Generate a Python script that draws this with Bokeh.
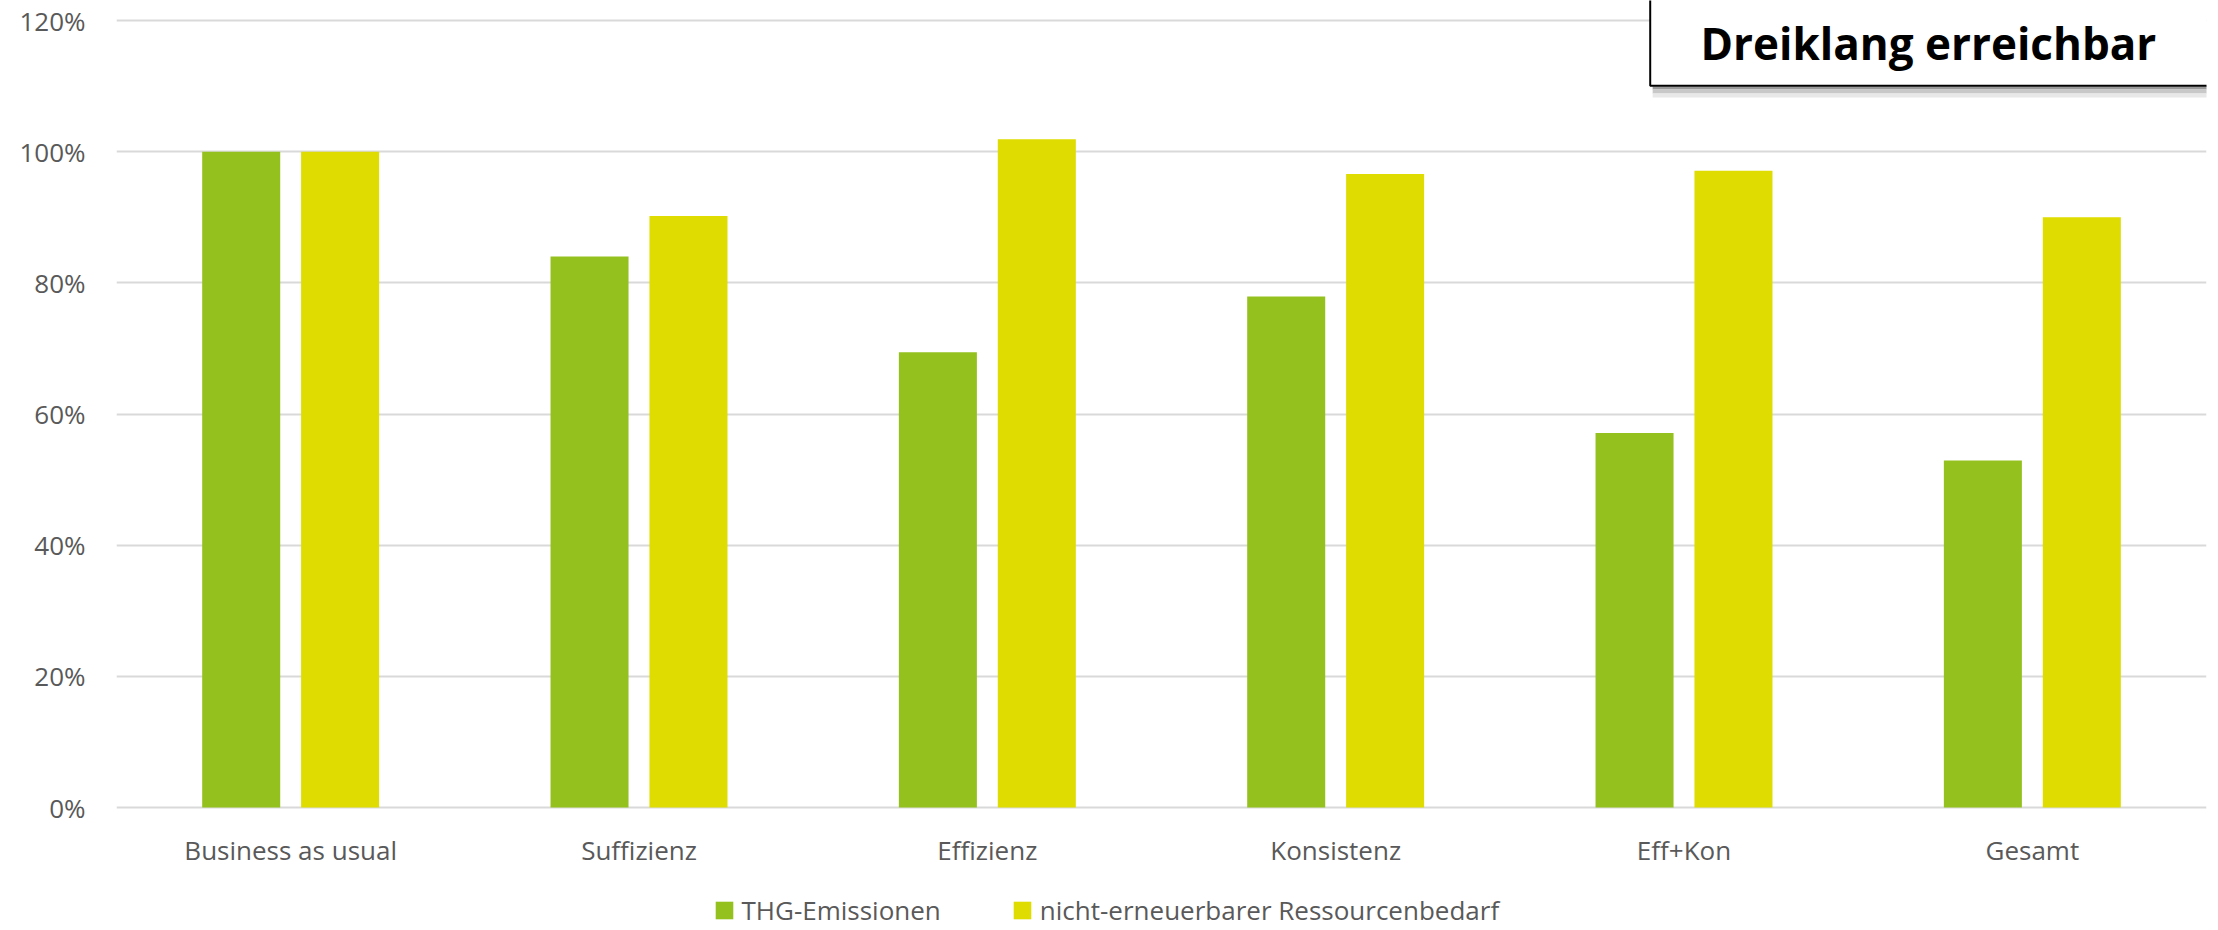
from bokeh.plotting import figure
from bokeh.models import (FactorRange, Range1d, FixedTicker, Legend, LegendItem,
                          Label, BoxAnnotation, ColumnDataSource)
from bokeh.transform import dodge
from bokeh.core.properties import value
from bokeh.embed import file_html
from bokeh.resources import INLINE

# ---- data ----
categories = ["Business as usual", "Suffizienz", "Effizienz", "Konsistenz", "Eff+Kon", "Gesamt"]
thg_emissionen = [100.0, 84.0, 69.4, 77.9, 57.1, 52.9]
ressourcenbedarf = [100.0, 90.2, 101.9, 96.6, 97.1, 90.0]
series_names = ["THG-Emissionen", "nicht-erneuerbarer Ressourcenbedarf"]
y_ticks = [0, 20, 40, 60, 80, 100, 120]
y_tick_labels = ["0%", "20%", "40%", "60%", "80%", "100%", "120%"]
title_text = "Dreiklang erreichbar"

# ---- style ----
GREEN = "#95C11F"
YELLOW = "#DEDC00"
GRID = "#D9D9D9"
TEXT = "#595959"
FONT = "Open Sans"
PX_PER_UNIT = 787 / 120.0           # vertical scale (px per percent)
Y_START = -(928 - 807) / PX_PER_UNIT
Y_END = 807 / PX_PER_UNIT
LABEL_Y = -(849 - 807) / PX_PER_UNIT  # vertical position of category labels

source = ColumnDataSource(dict(cat=categories, thg=thg_emissionen, res=ressourcenbedarf))

p = figure(width=2216, height=928,
           x_range=FactorRange(*categories, range_padding=0),
           y_range=Range1d(Y_START, Y_END),
           x_axis_location=None,
           output_backend="svg", toolbar_location=None,
           min_border_left=116, min_border_right=10,
           min_border_top=0, min_border_bottom=0)
p.outline_line_color = None
p.background_fill_color = "white"
p.border_fill_color = "white"

r1 = p.vbar(x=dodge("cat", -0.142, range=p.x_range), top="thg", width=0.224,
            source=source, fill_color=GREEN, line_color=None)
r2 = p.vbar(x=dodge("cat", 0.142, range=p.x_range), top="res", width=0.224,
            source=source, fill_color=YELLOW, line_color=None)

# category labels (x axis)
lab_src = ColumnDataSource(dict(cat=categories, y=[LABEL_Y] * len(categories)))
p.text(x="cat", y="y", text="cat", source=lab_src,
       text_font=value(FONT), text_font_size="26px", text_color=TEXT,
       text_align="center", text_baseline="alphabetic")

# y axis
p.yaxis.ticker = FixedTicker(ticks=y_ticks)
p.yaxis.major_label_overrides = {t: l for t, l in zip(y_ticks, y_tick_labels)}
p.yaxis.axis_line_color = None
p.yaxis.major_tick_line_color = None
p.yaxis.major_tick_out = 0
p.yaxis.minor_tick_line_color = None
p.yaxis.major_label_standoff = 31
p.yaxis.major_label_text_font = FONT
p.yaxis.major_label_text_font_size = "26px"
p.yaxis.major_label_text_color = TEXT

p.xgrid.grid_line_color = None
p.ygrid.ticker = FixedTicker(ticks=y_ticks)
p.ygrid.grid_line_color = GRID
p.ygrid.grid_line_width = 2

# legend
legend = Legend(items=[LegendItem(label=series_names[0], renderers=[r1]),
                       LegendItem(label=series_names[1], renderers=[r2])],
                orientation="horizontal", location=(596.5, 0),
                padding=0, margin=0, spacing=70, label_standoff=7,
                glyph_width=22, glyph_height=22,
                border_line_color=None, background_fill_alpha=0,
                label_text_font=FONT, label_text_font_size="26px",
                label_text_color=TEXT)
p.add_layout(legend)

# title box with shadow
for top_y, bot_y, col in [(109.94, 109.48, "#9A9A9A"), (109.48, 108.87, "#C8C8C8"),
                          (108.87, 108.26, "#E8E8E8")]:
    p.add_layout(BoxAnnotation(left=4.41, right=6.6, top=top_y, bottom=bot_y,
                               fill_color=col, fill_alpha=1, line_color=None))
p.add_layout(BoxAnnotation(left=4.403, right=6.6, bottom=110.06, top=130,
                           fill_color="white", fill_alpha=1,
                           line_color="black", line_width=2, line_alpha=1))
p.add_layout(Label(x=1584, y=886, x_units="screen", y_units="screen",
                   text=title_text, text_font=FONT, text_font_style="bold",
                   text_font_size="44px", text_color="black",
                   text_baseline="alphabetic", text_align="left"))

open("out.html", "w").write(file_html(p, INLINE))
